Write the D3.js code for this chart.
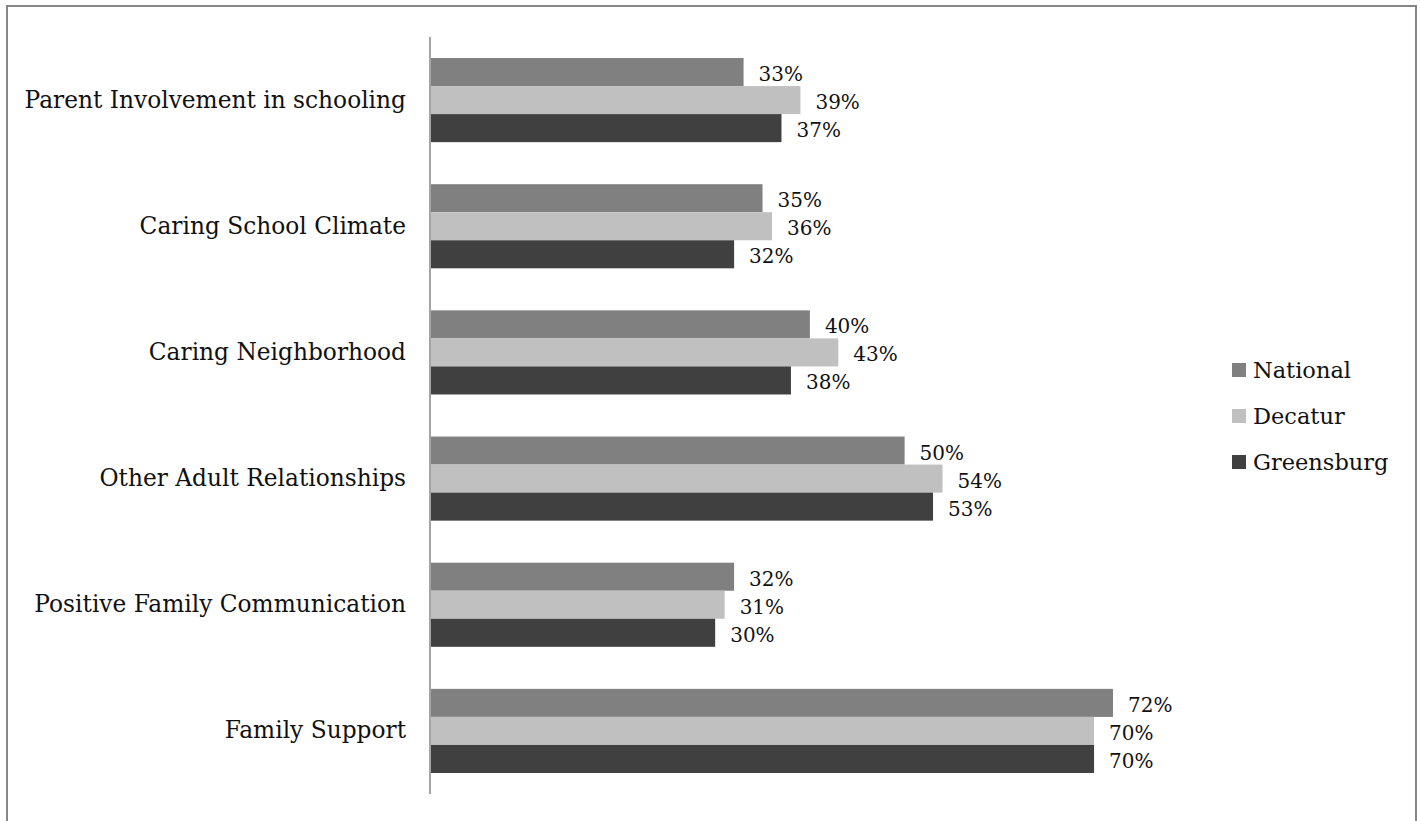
<!DOCTYPE html>
<html>
<head>
<meta charset="utf-8">
<script src="https://cdn.jsdelivr.net/npm/d3@7"></script>
<style>
  html, body { margin: 0; padding: 0; background: #fff; }
  svg { display: block; }
  text { font-family: "DejaVu Serif", Georgia, serif; fill: #111; }
</style>
</head>
<body>
<svg id="chart" width="1421" height="821"></svg>
<script>
// Categories, top to bottom
const categories = [
  "Parent Involvement in schooling",
  "Caring School Climate",
  "Caring Neighborhood",
  "Other Adult Relationships",
  "Positive Family Communication",
  "Family Support"
];
const seriesNames = ["National", "Decatur", "Greensburg"];
const seriesColors = ["#808080", "#c0c0c0", "#404040"];
const national   = [33, 35, 40, 50, 32, 72];
const decatur    = [39, 36, 43, 54, 31, 70];
const greensburg = [37, 32, 38, 53, 30, 70];

const seriesValues = [national, decatur, greensburg];
const rows = categories.map((c, i) => ({
  category: c,
  values: seriesNames.map((s, j) => ({ series: s, value: seriesValues[j][i], color: seriesColors[j] }))
}));

const svg = d3.select("#chart");

// outer frame
svg.append("rect")
  .attr("x", 7).attr("y", 6).attr("width", 1409).attr("height", 830)
  .attr("fill", "none").attr("stroke", "#868686").attr("stroke-width", 2);

const plot = { left: 431, top: 37, bottom: 794 };

const x = d3.scaleLinear().domain([0, 72]).range([plot.left, 1113]);
const y = d3.scaleBand().domain(categories).range([plot.top, plot.bottom]).paddingInner(1/3).paddingOuter(1/6);
const ySub = d3.scaleBand().domain(seriesNames).range([0, y.bandwidth()]);

const groups = svg.append("g").selectAll("g").data(rows).join("g")
  .attr("transform", d => `translate(0,${y(d.category)})`);

groups.selectAll("rect").data(d => d.values).join("rect")
  .attr("x", x(0))
  .attr("y", d => ySub(d.series))
  .attr("width", d => x(d.value) - x(0))
  .attr("height", ySub.bandwidth())
  .attr("fill", d => d.color);

groups.selectAll("text.val").data(d => d.values).join("text")
  .attr("class", "val")
  .attr("x", d => x(d.value) + 15)
  .attr("y", d => ySub(d.series) + ySub.bandwidth() / 2 + 9)
  .attr("font-size", 20)
  .text(d => d.value + "%");

// category axis
const yAxis = svg.append("g")
  .attr("transform", `translate(${plot.left - 1},0)`)
  .call(d3.axisLeft(y).tickSize(0).tickPadding(24));
yAxis.select(".domain").attr("stroke", "#868686").attr("stroke-width", 1.5)
  .attr("d", `M0,${plot.top}V${plot.bottom}`);
yAxis.selectAll(".tick text")
  .attr("font-size", 23.3)
  .attr("font-family", "DejaVu Serif, serif")
  .attr("fill", "#111");

// legend
const legend = svg.append("g").attr("transform", "translate(1232,0)");
const legendY = d3.scalePoint().domain(seriesNames).range([370, 462]);
const li = legend.selectAll("g").data(seriesNames).join("g")
  .attr("transform", d => `translate(0,${legendY(d)})`);
li.append("rect").attr("x", 0).attr("y", -7).attr("width", 14).attr("height", 14)
  .attr("fill", (d, i) => seriesColors[i]);
li.append("text").attr("x", 21).attr("y", 8).attr("font-size", 22.5).text(d => d);
</script>
</body>
</html>
